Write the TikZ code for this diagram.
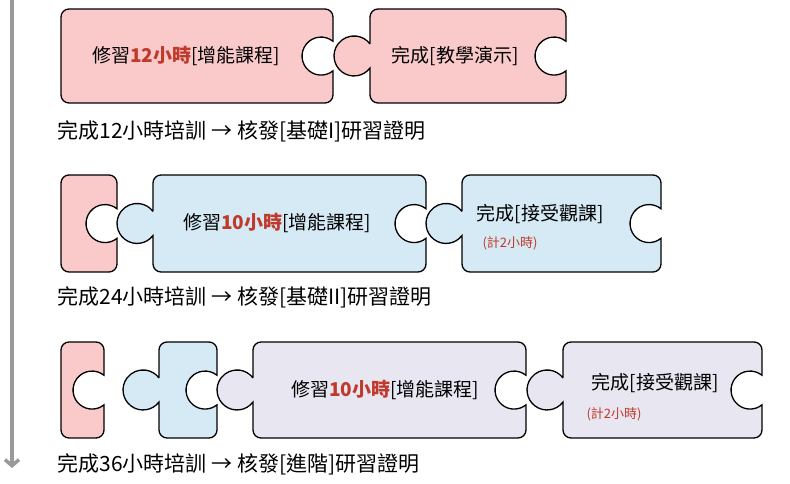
\documentclass[tikz,border=0pt]{standalone}
\usepackage{fontspec}
\usetikzlibrary{arrows.meta}
\setmainfont{Noto Sans CJK TC}
\definecolor{pink}{HTML}{FACACA}
\definecolor{sky}{HTML}{D5EAF5}
\definecolor{lav}{HTML}{E8E6F1}
\definecolor{hred}{HTML}{C0392B}
% #1 left, #2 right, #3 top, #4 bottom, #5 fill, #6 knob (1) or not (0)
\newcommand\piece[6]{%
  \pgfmathsetmacro\yc{(#3+#4)/2}
  \pgfmathsetmacro\ya{\yc+14.7}\pgfmathsetmacro\yb{\yc-12}\pgfmathsetmacro\yd{\yc+12}
  \ifnum#6=1
  \draw[line width=1.3pt,fill=#5,rounded corners=8pt](#1,\yd)--(#1,#3)--(#2,#3)[sharp corners]--(#2,\ya)
    arc[start angle=51,end angle=309,radius=19][rounded corners=8pt]--(#2,#4)--(#1,#4)[sharp corners]--(#1,\yb)
    arc[start angle=-37,end angle=-323,radius=20]--cycle;
  \else
  \draw[line width=1.3pt,fill=#5,rounded corners=8pt](#1,\yc)--(#1,#3)--(#2,#3)[sharp corners]--(#2,\ya)
    arc[start angle=51,end angle=309,radius=19][rounded corners=8pt]--(#2,#4)--(#1,#4)--cycle;
  \fi}
\tikzset{lbl/.style={font=\fontsize{19}{21}\selectfont},
  caption/.style={font=\fontsize{21}{24}\selectfont,anchor=west},
  note/.style={font=\fontsize{13}{15}\selectfont,text=hred}}
\newcommand\hrs[1]{\textbf{\textcolor{hred}{#1}}}
\begin{document}
\begin{tikzpicture}[x=1pt,y=1pt]
    \useasboundingbox(0,0)rectangle(790,484);
    \draw[line width=3.5pt,gray!80,-{Straight Barb[length=6pt,width=14pt]}](12,484)--(12,16);
    % row 1
    \piece{61}{333}{475}{381}{pink}{0}
    \piece{370}{566}{475}{381}{pink}{1}
    \node[lbl](a1)at(186,428){修習\hrs{12小時}[增能課程]};
    \node[lbl](b1)at(455,428){完成[教學演示]};
    \node[caption](c1)at(54,353){完成12小時培訓 → 核發[基礎I]研習證明};
    % row 2
    \piece{61}{117}{309}{212}{pink}{0}
    \piece{153}{426}{309}{212}{sky}{1}
    \piece{462}{661}{309}{212}{sky}{1}
    \node[lbl](a2)at(277,261){修習\hrs{10小時}[增能課程]};
    \node[lbl](b2)at(540,270){完成[接受觀課]};
    \node[note](n2)at(510,241){(計2小時)};
    \node[caption](c2)at(54,187){完成24小時培訓 → 核發[基礎II]研習證明};
    % row 3
    \piece{61}{104}{142}{46}{pink}{0}
    \piece{159}{217}{142}{46}{sky}{1}
    \piece{253}{526}{142}{46}{lav}{1}
    \piece{563}{762}{142}{46}{lav}{1}
    \node[lbl](a3)at(385,94){修習\hrs{10小時}[增能課程]};
    \node[lbl](b3)at(655,101){完成[接受觀課]};
    \node[note](n3)at(614,70){(計2小時)};
    \node[caption](c3)at(54,20){完成36小時培訓 → 核發[進階]研習證明};
\end{tikzpicture}
\end{document}
